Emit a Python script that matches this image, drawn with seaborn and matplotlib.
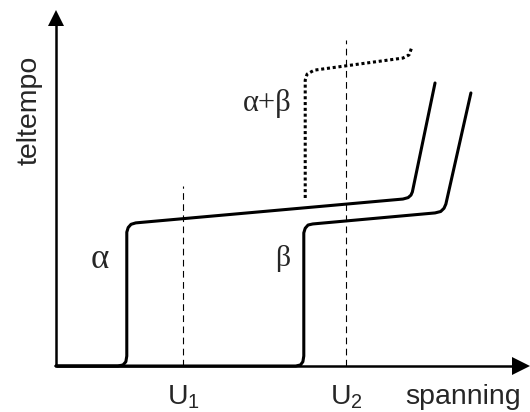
import matplotlib
matplotlib.use("Agg")
import matplotlib.pyplot as plt
import seaborn as sns
import pandas as pd

# Count-vs-voltage curves (arbitrary units: spanning 0-100, teltempo 0-100)
alpha_v = [0, 13.1, 14.2, 14.8, 15.0, 15.0, 15.3, 15.9, 16.9, 73.5, 74.6, 75.2, 75.5, 80.3]
alpha_n = [0, 0, 0.3, 1.2, 2.8, 37.6, 38.9, 39.8, 40.2, 46.9, 47.3, 48.0, 48.9, 79.5]

beta_v = [0, 50.8, 51.8, 52.3, 52.5, 52.5, 52.8, 53.4, 54.4, 80.3, 81.5, 82.2, 82.6, 87.9]
beta_n = [0, 0, 0.3, 1.2, 2.8, 37.4, 38.7, 39.6, 39.9, 43.0, 43.4, 44.3, 45.5, 76.7]

sum_v = [52.8, 52.8, 53.2, 54.7, 73.5, 74.8, 75.4]
sum_n = [47.2, 80.3, 82.0, 83.1, 86.5, 87.4, 89.6]

# Working voltages U1 and U2 with the height of their marker lines
u_pos = [26.9, 61.4]
u_top = [50.6, 91.6]
u_labels = ["$\\mathregular{U_1}$", "$\\mathregular{U_2}$"]

curve_labels = ["\u03b1", "\u03b2", "\u03b1+\u03b2"]
label_pos = [(9.3, 29.8), (48.1, 30.3), (44.7, 73.6)]
label_sizes = [25, 21.5, 22]

sns.set_style("white")
plt.rcParams["font.family"] = ["Liberation Sans", "DejaVu Sans"]
plt.rcParams["mathtext.fontset"] = "custom"
plt.rcParams["mathtext.rm"] = "Liberation Sans"

fig = plt.figure(figsize=(5.30, 4.12), dpi=100)
ax = fig.add_axes([0, 0, 1, 1])
ax.set_xlim(-11.86, 100.42)
ax.set_ylim(-12.92, 102.81)
ax.axis("off")

df_a = pd.DataFrame({"v": alpha_v, "n": alpha_n})
df_b = pd.DataFrame({"v": beta_v, "n": beta_n})
df_s = pd.DataFrame({"v": sum_v, "n": sum_n})

line_kw = dict(x="v", y="n", sort=False, estimator=None, ax=ax, legend=False)
sns.lineplot(data=df_a, color="black", linewidth=2.2, **line_kw)
sns.lineplot(data=df_b, color="black", linewidth=2.2, **line_kw)
sns.lineplot(data=df_s, color="black", linewidth=2.2,
             dashes=False, **line_kw)
ax.lines[-1].set_linestyle((0, (1.0, 0.9)))
ax.lines[-1].set_dash_capstyle("butt")

# Vertical markers at U1 and U2
for x, top in zip(u_pos, u_top):
    ax.plot([x, x], [0, top], color="black", linewidth=0.8,
            linestyle=(0, (6, 4)))

# Axes with arrowheads
ax.plot([0, 0], [0, 97.8], color="black", linewidth=1.8,
        solid_capstyle="butt")
ax.plot([0, 97.2], [0, 0], color="black", linewidth=1.8,
        solid_capstyle="butt")
ax.plot([0], [97.8], marker="^", markersize=11.8, color="black", mew=0)
ax.plot([98.6], [0], marker=">", markersize=12.5, color="black", mew=0)

# Labels
for txt, (x, y), fs in zip(curve_labels, label_pos, label_sizes):
    ax.text(x, y, txt, ha="center", va="center", fontsize=fs,
            family=["Liberation Serif", "DejaVu Serif"])

for x, txt in zip(u_pos, u_labels):
    ax.text(x + 0.2, -10.9, txt, ha="center", va="baseline", fontsize=20.5)

ax.text(86.3, -10.8, "spanning", ha="center", va="baseline", fontsize=20.5)
ax.text(-5.5, 71.9, "teltempo", ha="center", va="center", fontsize=20.5,
        rotation=90)

fig.savefig("out.png", dpi=100)
